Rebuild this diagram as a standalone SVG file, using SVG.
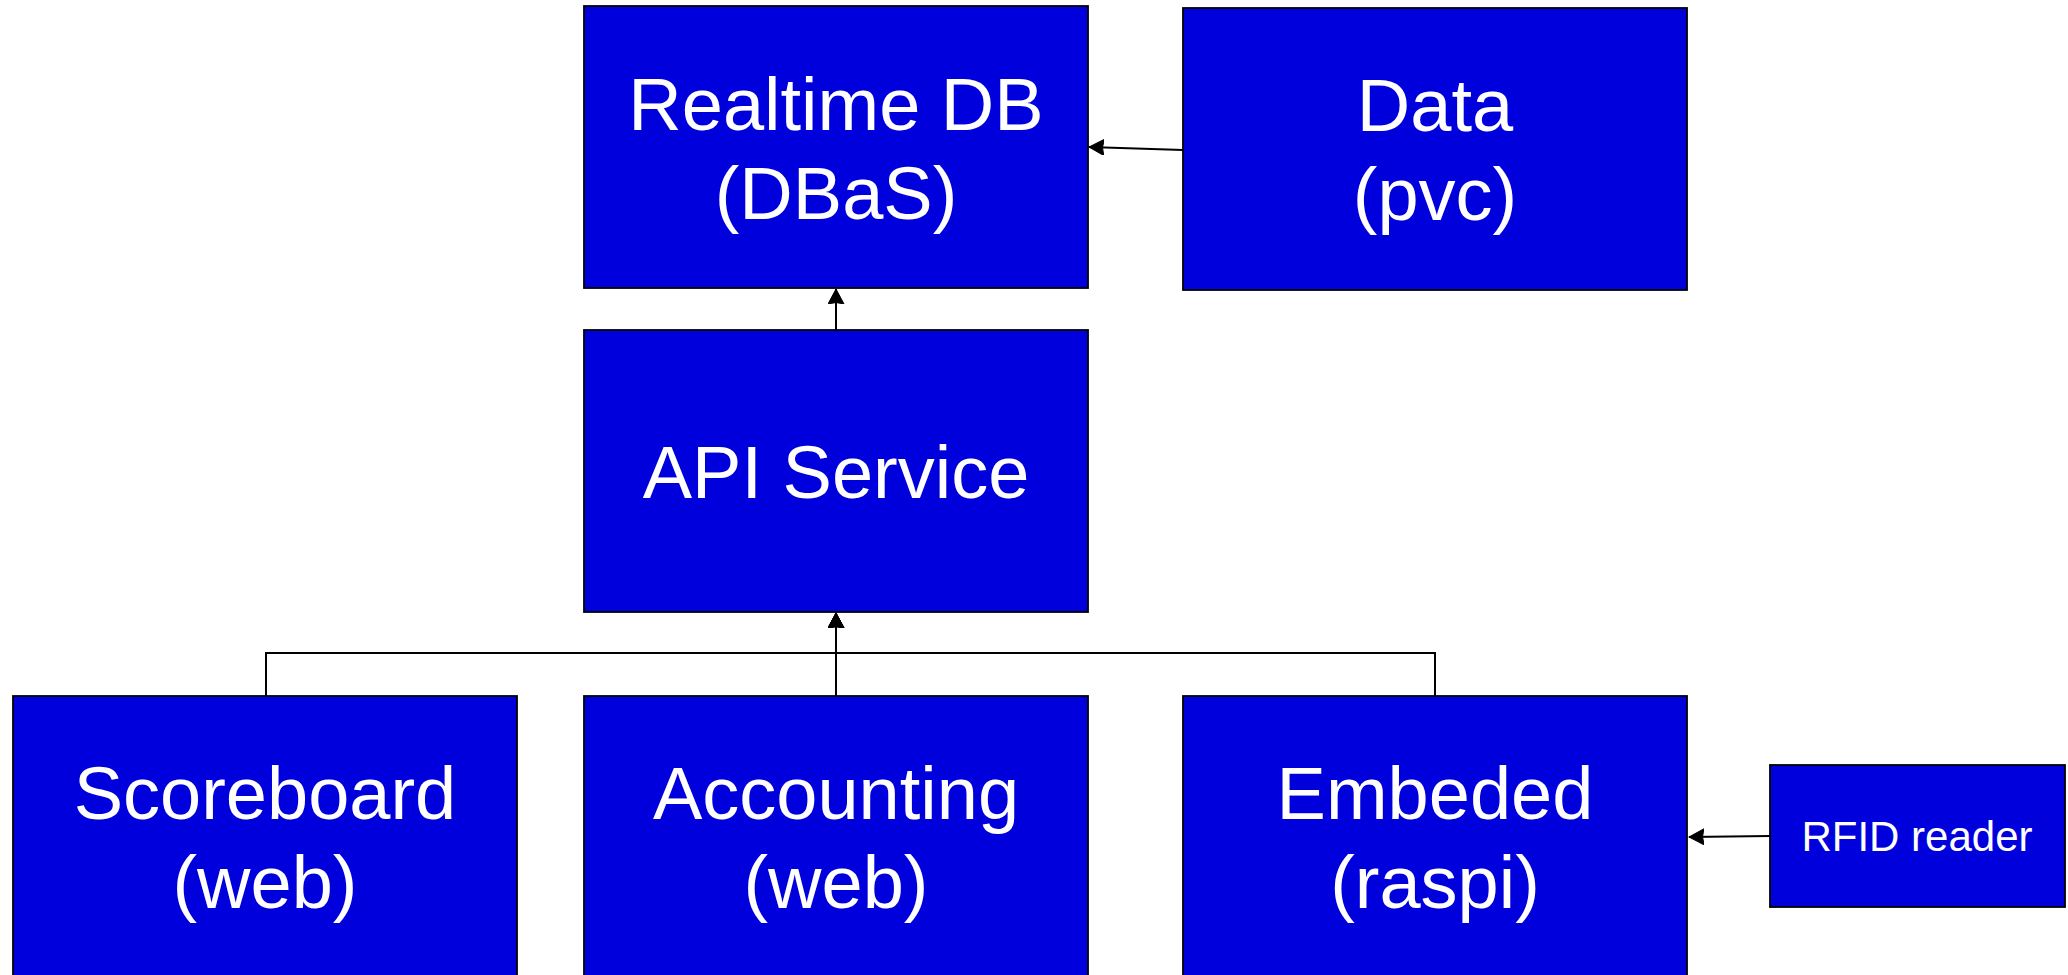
<svg xmlns="http://www.w3.org/2000/svg" width="2068" height="975" viewBox="0 0 2068 975">
<style>
.box{fill:#0000dd;stroke:#000000;stroke-width:1.8}
.lbl{font-family:"Liberation Sans",Arial,sans-serif;font-size:74px;fill:#ffffff;text-anchor:middle}
.small{font-size:42px}
.conn{fill:none;stroke:#000000;stroke-width:2}
</style>
<defs>
<marker id="arrow" markerUnits="userSpaceOnUse" markerWidth="16" markerHeight="17" refX="15" refY="8" orient="auto" viewBox="0 0 16 17">
<path d="M0,0 L15,8 L0,16 L1.5,8 Z" fill="#000000" stroke="#000000" stroke-width="1"/>
</marker>
</defs>
<rect width="2068" height="975" fill="#ffffff"/>
<g id="connectors">
<path class="conn" d="M1183,150 L1089,147" marker-end="url(#arrow)"/>
<path class="conn" d="M836,330 L836,289" marker-end="url(#arrow)"/>
<path class="conn" d="M836,696 L836,613" marker-end="url(#arrow)"/>
<path class="conn" d="M266,696 L266,653 L836,653 L836,613" marker-end="url(#arrow)"/>
<path class="conn" d="M1435,696 L1435,653 L836,653 L836,613" marker-end="url(#arrow)"/>
<path class="conn" d="M1770,836 L1689,837" marker-end="url(#arrow)"/>
</g>
<g id="realtime-db">
<rect class="box" x="584" y="6" width="504" height="282"/>
<text class="lbl" x="836" y="130">Realtime DB</text>
<text class="lbl" x="836" y="219">(DBaS)</text>
</g>
<g id="data">
<rect class="box" x="1183" y="8" width="504" height="282"/>
<text class="lbl" x="1435" y="131">Data</text>
<text class="lbl" x="1435" y="220">(pvc)</text>
</g>
<g id="api-service">
<rect class="box" x="584" y="330" width="504" height="282"/>
<text class="lbl" x="836" y="498">API Service</text>
</g>
<g id="scoreboard">
<rect class="box" x="13" y="696" width="504" height="282"/>
<text class="lbl" x="265" y="819">Scoreboard</text>
<text class="lbl" x="265" y="908">(web)</text>
</g>
<g id="accounting">
<rect class="box" x="584" y="696" width="504" height="282"/>
<text class="lbl" x="836" y="819">Accounting</text>
<text class="lbl" x="836" y="908">(web)</text>
</g>
<g id="embeded">
<rect class="box" x="1183" y="696" width="504" height="282"/>
<text class="lbl" x="1435" y="819">Embeded</text>
<text class="lbl" x="1435" y="908">(raspi)</text>
</g>
<g id="rfid-reader">
<rect class="box" x="1770" y="765" width="295" height="142"/>
<text class="lbl small" x="1917" y="851">RFID reader</text>
</g>
</svg>
